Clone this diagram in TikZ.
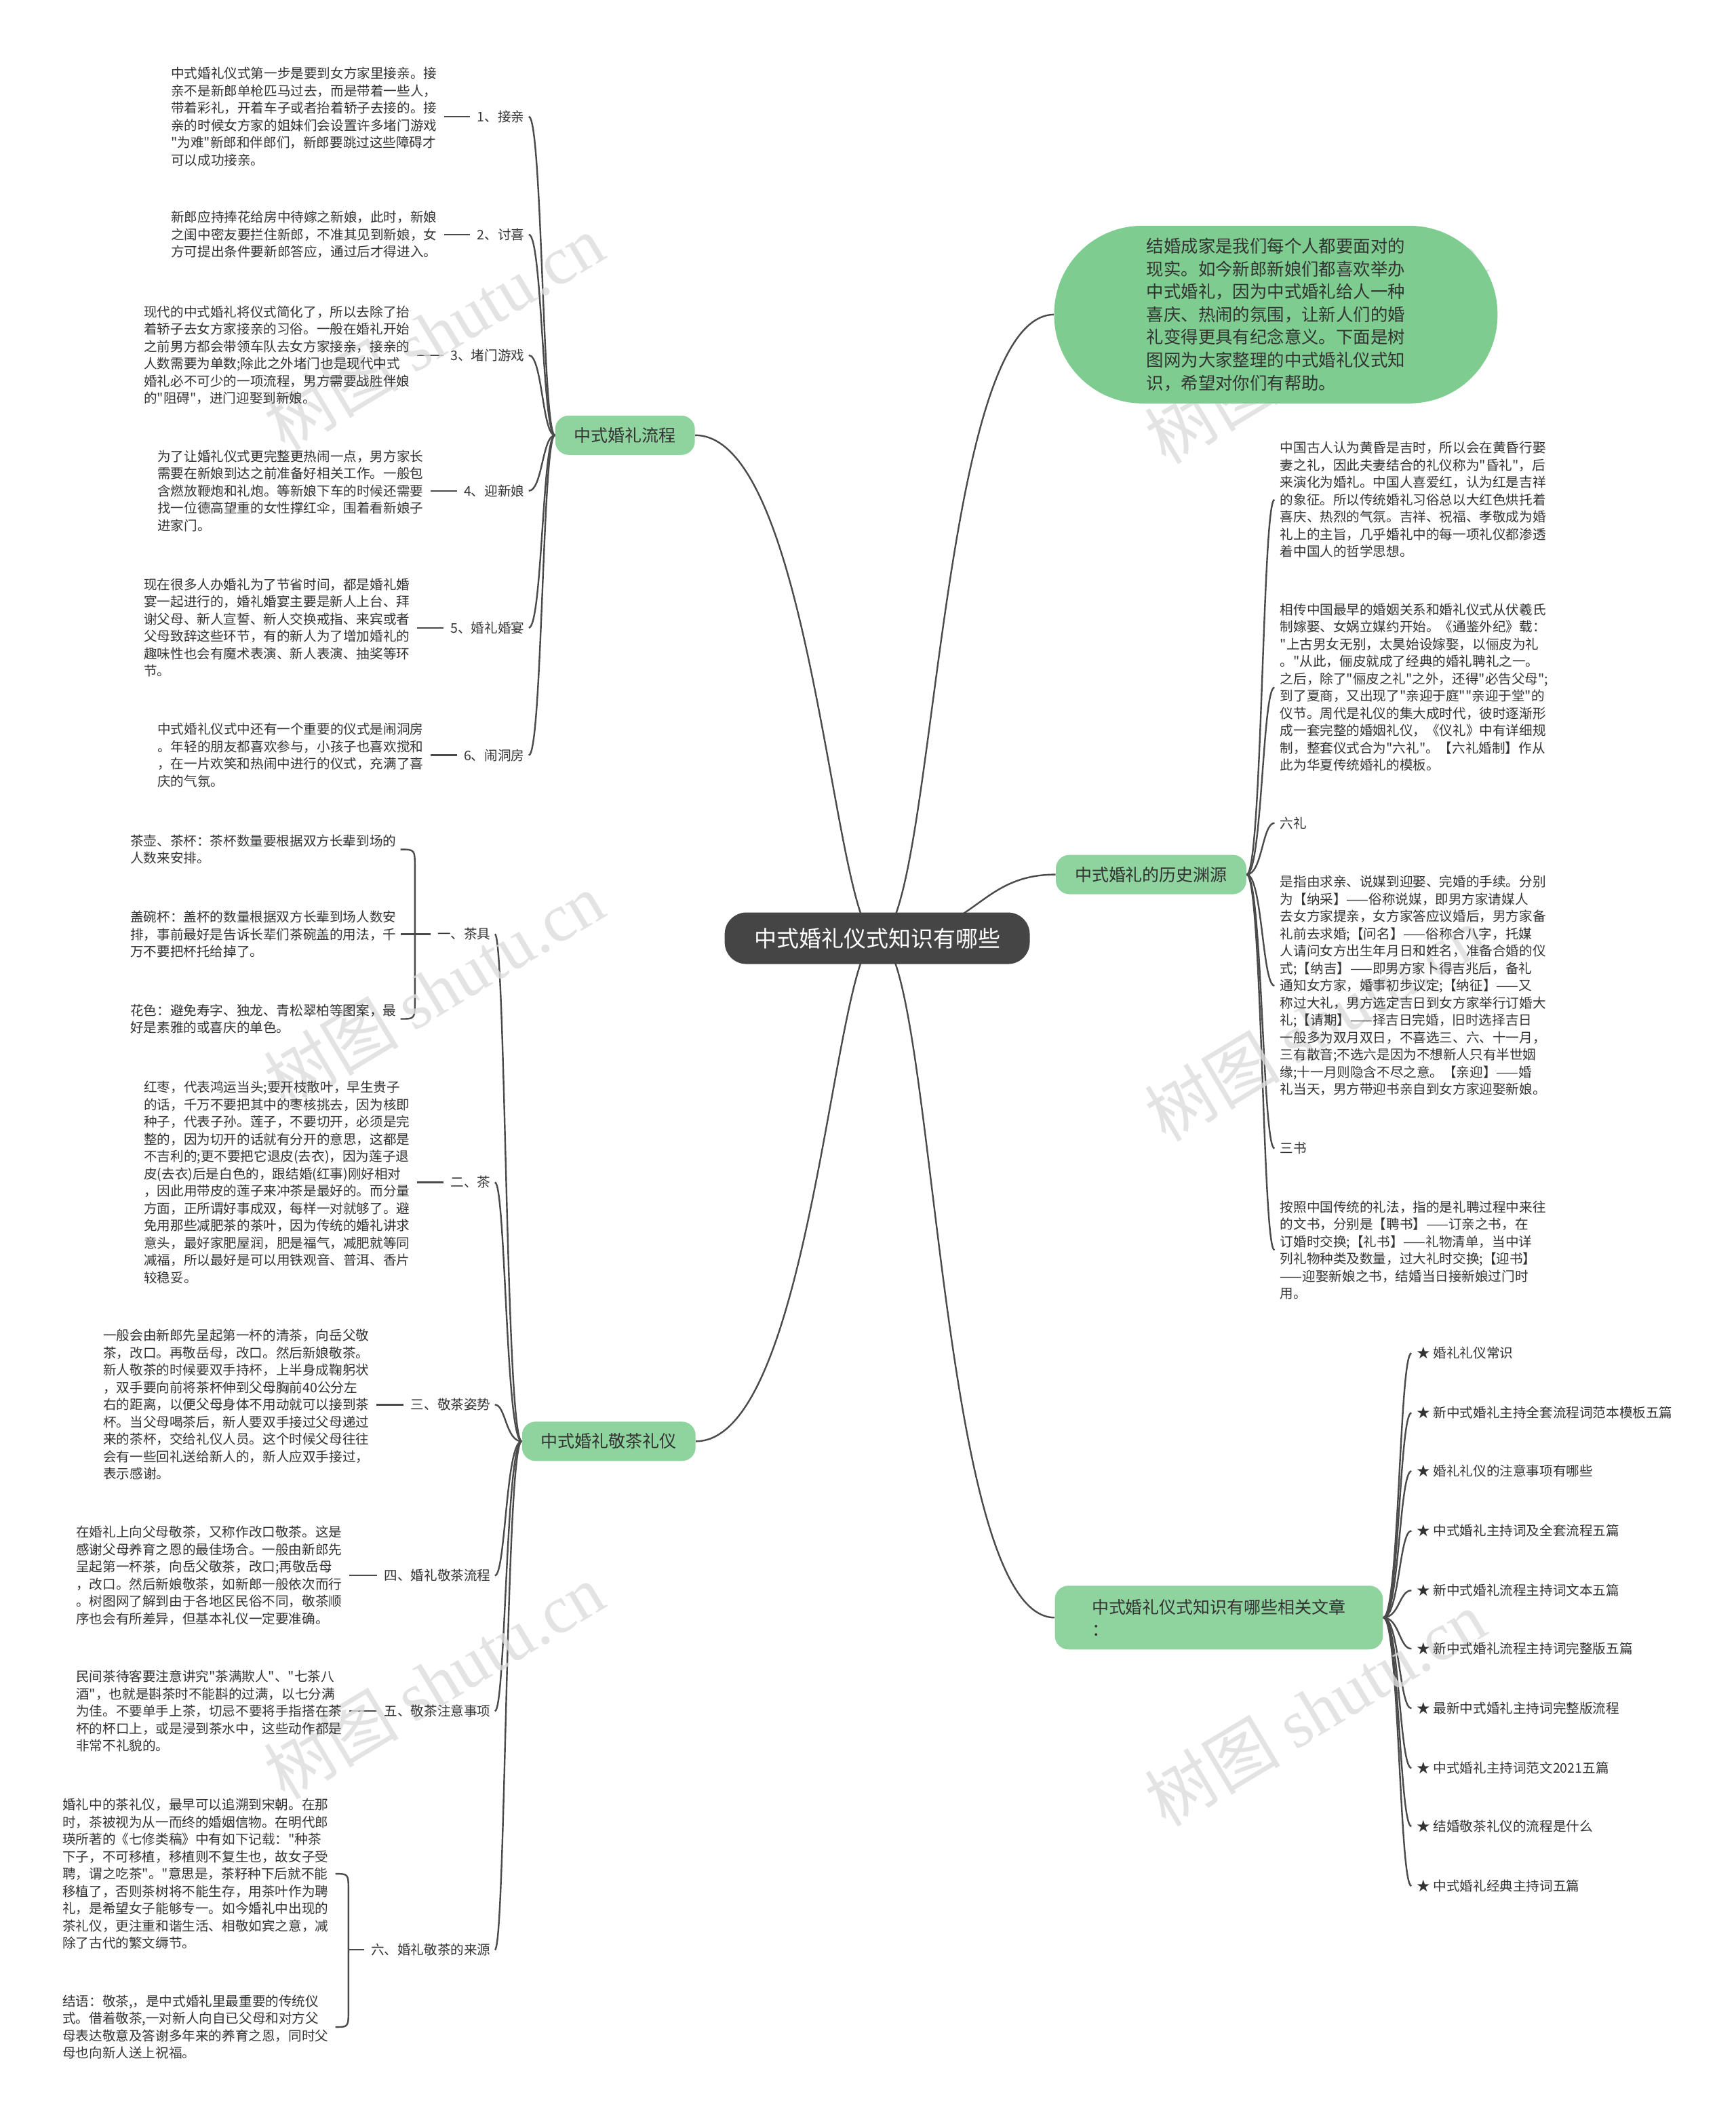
\documentclass[tikz,border=0pt]{standalone}
\usepackage{fontspec}
\setmainfont{Noto Sans CJK SC}[Ligatures=TeXOff]
\newfontfamily\wmfont{Liberation Serif}
\usetikzlibrary{backgrounds}
\definecolor{rootgray}{HTML}{454545}
\definecolor{bubgreen}{HTML}{7ECC8F}
\definecolor{brgreen}{HTML}{8FD39F}
\definecolor{linegray}{HTML}{4A4A4A}
\definecolor{txtgray}{HTML}{333333}
\definecolor{wmgray}{HTML}{DCDCDC}
\tikzset{
    root/.style={fill=rootgray,text=white,rounded corners=16pt,minimum width=225pt,minimum height=38pt,inner sep=0pt,font=\fontsize{16.5}{20}\selectfont},
    bubble/.style={fill=bubgreen,rounded corners=65pt,minimum width=327pt,minimum height=131pt,align=left,inner sep=0pt,text=txtgray,font=\fontsize{12.7}{16.8}\selectfont},
    branch/.style={fill=brgreen,rounded corners=10pt,minimum height=29pt,inner xsep=14pt,inner ysep=0pt,text=txtgray,font=\fontsize{12.5}{16.5}\selectfont},
    leaf/.style={anchor=east,inner sep=0pt,text=txtgray,font=\fontsize{9.8}{12}\selectfont},
    txt/.style={anchor=west,align=left,inner sep=0pt,text=txtgray,font=\fontsize{9.8}{12.75}\selectfont},
    link/.style={draw=linegray,line width=1.2pt},
    tick/.style={link,shorten <=5pt,shorten >=5pt},
    wmark/.style={rotate=31,text=wmgray,opacity=0.8,font=\fontsize{50}{50}\selectfont}
}

\begin{document}
\begin{tikzpicture}[x=1pt,y=-1pt]
\useasboundingbox (0,0) rectangle (1280,1568);

% watermarks
\node[wmark] (w1) at (320,245) {树图 {\wmfont shutu.cn}};
\node[wmark] (w2) at (970,255) {树图 {\wmfont shutu.cn}};
\node[wmark] (w3) at (320,730) {树图 {\wmfont shutu.cn}};
\node[wmark] (w4) at (970,755) {树图 {\wmfont shutu.cn}};
\node[wmark] (w5) at (320,1240) {树图 {\wmfont shutu.cn}};
\node[wmark] (w6) at (970,1260) {树图 {\wmfont shutu.cn}};

\node[root] (root) at (647,692) {中式婚礼仪式知识有哪些};
\node[bubble] (intro) at (941,232) {结婚成家是我们每个人都要面对的\\
现实。如今新郎新娘们都喜欢举办\\
中式婚礼，因为中式婚礼给人一种\\
喜庆、热闹的氛围，让新人们的婚\\
礼变得更具有纪念意义。下面是树\\
图网为大家整理的中式婚礼仪式知\\
识，希望对你们有帮助。};
\node[branch] (flow) at (461,321) {中式婚礼流程};
\node[branch] (tea) at (449,1063) {中式婚礼敬茶礼仪};
\node[branch] (hist) at (849,645) {中式婚礼的历史渊源};
\node[branch,align=left,minimum width=242pt,minimum height=47pt] (rel) at (899,1193) {中式婚礼仪式知识有哪些相关文章\\：};

% flow
\node[leaf] (p1) at (387,86) {1、接亲};
\node[leaf] (p2) at (387,173) {2、讨喜};
\node[leaf] (p3) at (387,262) {3、堵门游戏};
\node[leaf] (p4) at (387,362) {4、迎新娘};
\node[leaf] (p5) at (387,463) {5、婚礼婚宴};
\node[leaf] (p6) at (387,557) {6、闹洞房};
\node[txt] (t1) at (126,86) {中式婚礼仪式第一步是要到女方家里接亲。接\\
亲不是新郎单枪匹马过去，而是带着一些人，\\
带着彩礼，开着车子或者抬着轿子去接的。接\\
亲的时候女方家的姐妹们会设置许多堵门游戏\\
"为难"新郎和伴郎们，新郎要跳过这些障碍才\\
可以成功接亲。};
\node[txt] (t2) at (126,173) {新郎应持捧花给房中待嫁之新娘，此时，新娘\\
之闺中密友要拦住新郎，不准其见到新娘，女\\
方可提出条件要新郎答应，通过后才得进入。};
\node[txt] (t3) at (106,262) {现代的中式婚礼将仪式简化了，所以去除了抬\\
着轿子去女方家接亲的习俗。一般在婚礼开始\\
之前男方都会带领车队去女方家接亲，接亲的\\
人数需要为单数;除此之外堵门也是现代中式\\
婚礼必不可少的一项流程，男方需要战胜伴娘\\
的"阻碍"，进门迎娶到新娘。};
\node[txt] (t4) at (116,362) {为了让婚礼仪式更完整更热闹一点，男方家长\\
需要在新娘到达之前准备好相关工作。一般包\\
含燃放鞭炮和礼炮。等新娘下车的时候还需要\\
找一位德高望重的女性撑红伞，围着看新娘子\\
进家门。};
\node[txt] (t5) at (106,463) {现在很多人办婚礼为了节省时间，都是婚礼婚\\
宴一起进行的，婚礼婚宴主要是新人上台、拜\\
谢父母、新人宣誓、新人交换戒指、来宾或者\\
父母致辞这些环节，有的新人为了增加婚礼的\\
趣味性也会有魔术表演、新人表演、抽奖等环\\
节。};
\node[txt] (t6) at (116,557) {中式婚礼仪式中还有一个重要的仪式是闹洞房\\
。年轻的朋友都喜欢参与，小孩子也喜欢搅和\\
，在一片欢笑和热闹中进行的仪式，充满了喜\\
庆的气氛。};

% tea
\node[leaf] (c1) at (362,689) {一、茶具};
\node[leaf] (c2) at (362,872) {二、茶};
\node[leaf] (c3) at (362,1036) {三、敬茶姿势};
\node[leaf] (c4) at (362,1162) {四、婚礼敬茶流程};
\node[leaf] (c5) at (362,1262) {五、敬茶注意事项};
\node[leaf] (c6) at (362,1438) {六、婚礼敬茶的来源};
\node[txt] (c1a) at (96,626.5) {茶壶、茶杯：茶杯数量要根据双方长辈到场的\\
人数来安排。};
\node[txt] (c1b) at (96,689) {盖碗杯：盖杯的数量根据双方长辈到场人数安\\
排，事前最好是告诉长辈们茶碗盖的用法，千\\
万不要把杯托给掉了。};
\node[txt] (c1c) at (96,751.5) {花色：避免寿字、独龙、青松翠柏等图案，最\\
好是素雅的或喜庆的单色。};
\node[txt] (c2a) at (106,872) {红枣，代表鸿运当头;要开枝散叶，早生贵子\\
的话，千万不要把其中的枣核挑去，因为核即\\
种子，代表子孙。莲子，不要切开，必须是完\\
整的，因为切开的话就有分开的意思，这都是\\
不吉利的;更不要把它退皮(去衣)，因为莲子退\\
皮(去衣)后是白色的，跟结婚(红事)刚好相对\\
，因此用带皮的莲子来冲茶是最好的。而分量\\
方面，正所谓好事成双，每样一对就够了。避\\
免用那些减肥茶的茶叶，因为传统的婚礼讲求\\
意头，最好家肥屋润，肥是福气，减肥就等同\\
减福，所以最好是可以用铁观音、普洱、香片\\
较稳妥。};
\node[txt] (c3a) at (76,1036) {一般会由新郎先呈起第一杯的清茶，向岳父敬\\
茶，改口。再敬岳母，改口。然后新娘敬茶。\\
新人敬茶的时候要双手持杯，上半身成鞠躬状\\
，双手要向前将茶杯伸到父母胸前40公分左\\
右的距离，以便父母身体不用动就可以接到茶\\
杯。当父母喝茶后，新人要双手接过父母递过\\
来的茶杯，交给礼仪人员。这个时候父母往往\\
会有一些回礼送给新人的，新人应双手接过，\\
表示感谢。};
\node[txt] (c4a) at (56,1162) {在婚礼上向父母敬茶，又称作改口敬茶。这是\\
感谢父母养育之恩的最佳场合。一般由新郎先\\
呈起第一杯茶，向岳父敬茶，改口;再敬岳母\\
，改口。然后新娘敬茶，如新郎一般依次而行\\
。树图网了解到由于各地区民俗不同，敬茶顺\\
序也会有所差异，但基本礼仪一定要准确。};
\node[txt] (c5a) at (56,1262) {民间茶待客要注意讲究"茶满欺人"、"七茶八\\
酒"，也就是斟茶时不能斟的过满，以七分满\\
为佳。不要单手上茶，切忌不要将手指搭在茶\\
杯的杯口上，或是浸到茶水中，这些动作都是\\
非常不礼貌的。};
\node[txt] (c6a) at (46,1382) {婚礼中的茶礼仪，最早可以追溯到宋朝。在那\\
时，茶被视为从一而终的婚姻信物。在明代郎\\
瑛所著的《七修类稿》中有如下记载："种茶\\
下子，不可移植，移植则不复生也，故女子受\\
聘，谓之吃茶"。"意思是，茶籽种下后就不能\\
移植了，否则茶树将不能生存，用茶叶作为聘\\
礼，是希望女子能够专一。如今婚礼中出现的\\
茶礼仪，更注重和谐生活、相敬如宾之意，减\\
除了古代的繁文缛节。};
\node[txt] (c6b) at (46,1495) {结语：敬茶,，是中式婚礼里最重要的传统仪\\
式。借着敬茶,一对新人向自已父母和对方父\\
母表达敬意及答谢多年来的养育之恩，同时父\\
母也向新人送上祝福。};
\coordinate (k1) at (306,689);
\coordinate (k6) at (257,1438);

% history
\node[txt] (h1) at (944,368.5) {中国古人认为黄昏是吉时，所以会在黄昏行娶\\
妻之礼，因此夫妻结合的礼仪称为"昏礼"，后\\
来演化为婚礼。中国人喜爱红，认为红是吉祥\\
的象征。所以传统婚礼习俗总以大红色烘托着\\
喜庆、热烈的气氛。吉祥、祝福、孝敬成为婚\\
礼上的主旨，几乎婚礼中的每一项礼仪都渗透\\
着中国人的哲学思想。};
\node[txt] (h2) at (944,507) {相传中国最早的婚姻关系和婚礼仪式从伏羲氏\\
制嫁娶、女娲立媒约开始。《通鉴外纪》载：\\
"上古男女无别，太昊始设嫁娶，以俪皮为礼\\
。"从此，俪皮就成了经典的婚礼聘礼之一。\\
之后，除了"俪皮之礼"之外，还得"必告父母";\\
到了夏商，又出现了"亲迎于庭""亲迎于堂"的\\
仪节。周代是礼仪的集大成时代，彼时逐渐形\\
成一套完整的婚姻礼仪，《仪礼》中有详细规\\
制，整套仪式合为"六礼"。【六礼婚制】作从\\
此为华夏传统婚礼的模板。};
\node[txt] (h3) at (944,607) {六礼};
\node[txt] (h4) at (944,727) {是指由求亲、说媒到迎娶、完婚的手续。分别\\
为【纳采】——俗称说媒，即男方家请媒人\\
去女方家提亲，女方家答应议婚后，男方家备\\
礼前去求婚;【问名】——俗称合八字，托媒\\
人请问女方出生年月日和姓名，准备合婚的仪\\
式;【纳吉】——即男方家卜得吉兆后，备礼\\
通知女方家，婚事初步议定;【纳征】——又\\
称过大礼，男方选定吉日到女方家举行订婚大\\
礼;【请期】——择吉日完婚，旧时选择吉日\\
一般多为双月双日，不喜选三、六、十一月，\\
三有散音;不选六是因为不想新人只有半世姻\\
缘;十一月则隐含不尽之意。【亲迎】——婚\\
礼当天，男方带迎书亲自到女方家迎娶新娘。};
\node[txt] (h5) at (944,847) {三书};
\node[txt] (h6) at (944,922) {按照中国传统的礼法，指的是礼聘过程中来往\\
的文书，分别是【聘书】——订亲之书，在\\
订婚时交换;【礼书】——礼物清单，当中详\\
列礼物种类及数量，过大礼时交换;【迎书】\\
——迎娶新娘之书，结婚当日接新娘过门时\\
用。};

% related articles
\node[txt] (r1) at (1045,998) {★ 婚礼礼仪常识};
\node[txt] (r2) at (1045,1042) {★ 新中式婚礼主持全套流程词范本模板五篇};
\node[txt] (r3) at (1045,1085) {★ 婚礼礼仪的注意事项有哪些};
\node[txt] (r4) at (1045,1129) {★ 中式婚礼主持词及全套流程五篇};
\node[txt] (r5) at (1045,1173) {★ 新中式婚礼流程主持词文本五篇};
\node[txt] (r6) at (1045,1216) {★ 新中式婚礼流程主持词完整版五篇};
\node[txt] (r7) at (1045,1260) {★ 最新中式婚礼主持词完整版流程};
\node[txt] (r8) at (1045,1304) {★ 中式婚礼主持词范文2021五篇};
\node[txt] (r9) at (1045,1347) {★ 结婚敬茶礼仪的流程是什么};
\node[txt] (r10) at (1045,1391) {★ 中式婚礼经典主持词五篇};

\begin{scope}[on background layer]
\fill[white] (0,0) rectangle (1280,1568);
\draw[link] (root.center) .. controls (615,692) and (600,321) .. (flow.east);
\draw[link] (root.center) .. controls (615,692) and (600,1063) .. (tea.east);
\draw[link] (root.center) .. controls (690,692) and (690,233) .. (intro.west);
\draw[link] (root.center) .. controls (720,692) and (720,645) .. (hist.west);
\draw[link] (root.center) .. controls (690,692) and (690,1193) .. (rel.west);

\draw[link] (flow.west) .. controls (400,321) and (400,86) .. ([xshift=3pt]p1.east);
\draw[link] (flow.west) .. controls (400,321) and (400,173) .. ([xshift=3pt]p2.east);
\draw[link] (flow.west) .. controls (400,321) and (400,262) .. ([xshift=3pt]p3.east);
\draw[link] (flow.west) .. controls (400,321) and (400,362) .. ([xshift=3pt]p4.east);
\draw[link] (flow.west) .. controls (400,321) and (400,463) .. ([xshift=3pt]p5.east);
\draw[link] (flow.west) .. controls (400,321) and (400,557) .. ([xshift=3pt]p6.east);
\draw[tick] (t1.east) -- (p1.west);
\draw[tick] (t2.east) -- (p2.west);
\draw[tick] (t3.east) -- (p3.west);
\draw[tick] (t4.east) -- (p4.west);
\draw[tick] (t5.east) -- (p5.west);
\draw[tick] (t6.east) -- (p6.west);

\draw[link] (tea.west) .. controls (373,1063) and (373,689) .. ([xshift=3pt]c1.east);
\draw[link] (tea.west) .. controls (373,1063) and (373,872) .. ([xshift=3pt]c2.east);
\draw[link] (tea.west) .. controls (373,1063) and (373,1036) .. ([xshift=3pt]c3.east);
\draw[link] (tea.west) .. controls (373,1063) and (373,1162) .. ([xshift=3pt]c4.east);
\draw[link] (tea.west) .. controls (373,1063) and (373,1262) .. ([xshift=3pt]c5.east);
\draw[link] (tea.west) .. controls (373,1063) and (373,1438) .. ([xshift=3pt]c6.east);
\draw[link,shorten <=3pt,shorten >=5pt] (c1b.east) -- (c1.west);
\draw[link] ([xshift=3pt]c1a.east) .. controls (306,626.5) .. (306,640) -- (306,738) .. controls (306,751.5) .. ([xshift=3pt]c1c.east);
\draw[tick] (c2a.east) -- (c2.west);
\draw[tick] (c3a.east) -- (c3.west);
\draw[tick] (c4a.east) -- (c4.west);
\draw[tick] (c5a.east) -- (c5.west);
\draw[link] ([xshift=5pt]c6a.east) .. controls (257,1382) .. (257,1395) -- (257,1482) .. controls (257,1495) .. ([xshift=5pt]c6b.east);
\draw[link,shorten >=5pt] (k6) -- (c6.west);

\draw[link,shorten >=4pt] (hist.east) .. controls (931,645) and (931,368.5) .. (h1.west);
\draw[link,shorten >=4pt] (hist.east) .. controls (931,645) and (931,507) .. (h2.west);
\draw[link,shorten >=4pt] (hist.east) .. controls (931,645) and (931,607) .. (h3.west);
\draw[link,shorten >=4pt] (hist.east) .. controls (931,645) and (931,727) .. (h4.west);
\draw[link,shorten >=4pt] (hist.east) .. controls (931,645) and (931,847) .. (h5.west);
\draw[link,shorten >=4pt] (hist.east) .. controls (931,645) and (931,922) .. (h6.west);

\draw[link,shorten >=4pt] (rel.east) .. controls (1032,1193) and (1032,998) .. (r1.west);
\draw[link,shorten >=4pt] (rel.east) .. controls (1032,1193) and (1032,1042) .. (r2.west);
\draw[link,shorten >=4pt] (rel.east) .. controls (1032,1193) and (1032,1085) .. (r3.west);
\draw[link,shorten >=4pt] (rel.east) .. controls (1032,1193) and (1032,1129) .. (r4.west);
\draw[link,shorten >=4pt] (rel.east) .. controls (1032,1193) and (1032,1173) .. (r5.west);
\draw[link,shorten >=4pt] (rel.east) .. controls (1032,1193) and (1032,1216) .. (r6.west);
\draw[link,shorten >=4pt] (rel.east) .. controls (1032,1193) and (1032,1260) .. (r7.west);
\draw[link,shorten >=4pt] (rel.east) .. controls (1032,1193) and (1032,1304) .. (r8.west);
\draw[link,shorten >=4pt] (rel.east) .. controls (1032,1193) and (1032,1347) .. (r9.west);
\draw[link,shorten >=4pt] (rel.east) .. controls (1032,1193) and (1032,1391) .. (r10.west);
\end{scope}
\end{tikzpicture}
\end{document}
